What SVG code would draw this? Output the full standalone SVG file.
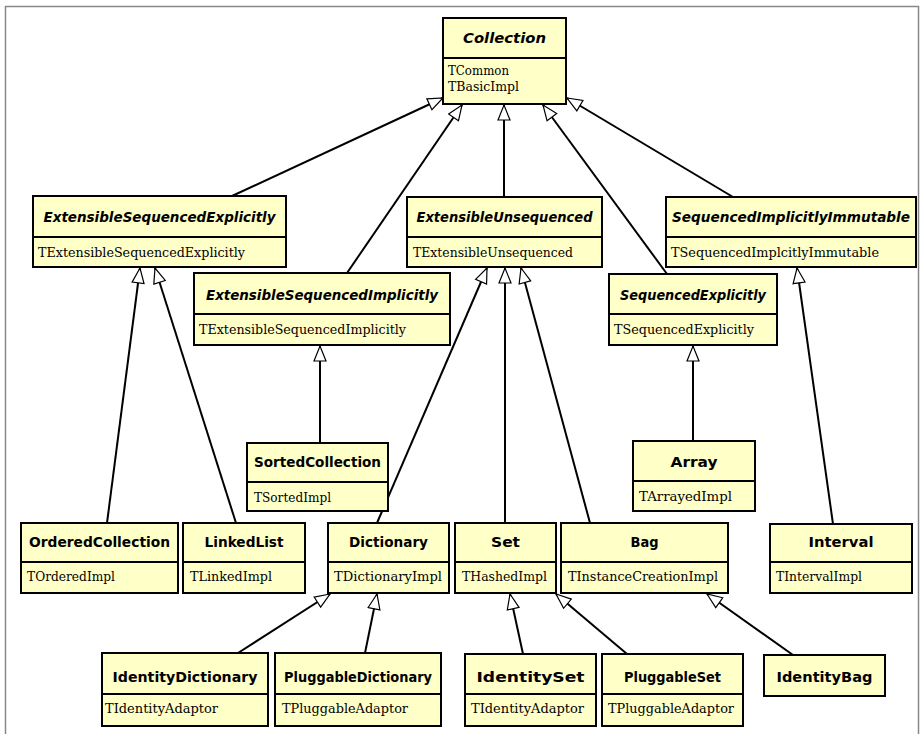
<svg xmlns="http://www.w3.org/2000/svg" width="922" height="734" viewBox="0 0 922 734">
<style>
.box{fill:#ffffc8;stroke:#000;stroke-width:2}
.dv{stroke:#000;stroke-width:2}
.h{font-family:"DejaVu Sans","Liberation Sans",sans-serif;font-weight:bold;font-size:14px;text-anchor:middle;fill:#000}
.i{font-style:italic}
.b{font-family:"DejaVu Serif","Liberation Serif",serif;font-size:12px;fill:#000}
.c line{stroke:#000;stroke-width:2;marker-end:url(#tri)}
</style>
<defs>
<marker id="tri" markerUnits="userSpaceOnUse" markerWidth="18" markerHeight="16" refX="16" refY="7" orient="auto">
<path d="M1,1 L16,7 L1,13 Z" fill="#fff" stroke="#000" stroke-width="1.2"/>
</marker>
</defs>
<rect x="5.5" y="6.5" width="913" height="740" fill="#fff" stroke="#888" stroke-width="1.5"/>
<g class="c" id="connectors">
<line x1="232" y1="196" x2="443" y2="98"/>
<line x1="347" y1="273" x2="462" y2="105"/>
<line x1="504" y1="197" x2="504" y2="105"/>
<line x1="667" y1="274" x2="543" y2="105"/>
<line x1="733" y1="197" x2="567" y2="98"/>
<line x1="107" y1="523" x2="140" y2="268"/>
<line x1="236" y1="523" x2="155" y2="268"/>
<line x1="320" y1="443" x2="320" y2="346"/>
<line x1="377" y1="523" x2="487" y2="268"/>
<line x1="505" y1="523" x2="505" y2="268"/>
<line x1="590" y1="523" x2="521" y2="268"/>
<line x1="693" y1="441" x2="693" y2="346"/>
<line x1="833" y1="524" x2="797" y2="268"/>
<line x1="238" y1="653" x2="330" y2="594"/>
<line x1="365" y1="653" x2="377" y2="594"/>
<line x1="523" y1="654" x2="510" y2="594"/>
<line x1="627" y1="654" x2="556" y2="594"/>
<line x1="793" y1="655" x2="707" y2="594"/>
</g>
<g id="Collection"><rect class="box" x="443" y="18" width="123" height="86"/><line class="dv" x1="443" y1="58" x2="566" y2="58"/><text class="h i" x="504.5" y="43" textLength="83" lengthAdjust="spacingAndGlyphs">Collection</text><text class="b" x="448" y="75" textLength="61" lengthAdjust="spacingAndGlyphs">TCommon</text><text class="b" x="448" y="91" textLength="71" lengthAdjust="spacingAndGlyphs">TBasicImpl</text></g>
<g id="ExtensibleSequencedExplicitly"><rect class="box" x="33" y="196" width="253" height="71"/><line class="dv" x1="33" y1="237" x2="286" y2="237"/><text class="h i" x="159.5" y="222" textLength="232" lengthAdjust="spacingAndGlyphs">ExtensibleSequencedExplicitly</text><text class="b" x="38" y="257" textLength="207" lengthAdjust="spacingAndGlyphs">TExtensibleSequencedExplicitly</text></g>
<g id="ExtensibleSequencedImplicitly"><rect class="box" x="194" y="273" width="256" height="72"/><line class="dv" x1="194" y1="314" x2="450" y2="314"/><text class="h i" x="322" y="300" textLength="232" lengthAdjust="spacingAndGlyphs">ExtensibleSequencedImplicitly</text><text class="b" x="199" y="334" textLength="207" lengthAdjust="spacingAndGlyphs">TExtensibleSequencedImplicitly</text></g>
<g id="ExtensibleUnsequenced"><rect class="box" x="407" y="197" width="195" height="70"/><line class="dv" x1="407" y1="237" x2="602" y2="237"/><text class="h i" x="504.5" y="222" textLength="176" lengthAdjust="spacingAndGlyphs">ExtensibleUnsequenced</text><text class="b" x="413" y="257" textLength="160" lengthAdjust="spacingAndGlyphs">TExtensibleUnsequenced</text></g>
<g id="SequencedImplicitlyImmutable"><rect class="box" x="666" y="197" width="250" height="70"/><line class="dv" x1="666" y1="237" x2="916" y2="237"/><text class="h i" x="791" y="222" textLength="238" lengthAdjust="spacingAndGlyphs">SequencedImplicitlyImmutable</text><text class="b" x="671" y="257" textLength="208" lengthAdjust="spacingAndGlyphs">TSequencedImplcitlyImmutable</text></g>
<g id="SequencedExplicitly"><rect class="box" x="609" y="274" width="168" height="71"/><line class="dv" x1="609" y1="314" x2="777" y2="314"/><text class="h i" x="693" y="300" textLength="146" lengthAdjust="spacingAndGlyphs">SequencedExplicitly</text><text class="b" x="614" y="334" textLength="140" lengthAdjust="spacingAndGlyphs">TSequencedExplicitly</text></g>
<g id="SortedCollection"><rect class="box" x="247" y="443" width="141" height="68"/><line class="dv" x1="247" y1="482" x2="388" y2="482"/><text class="h" x="317.5" y="467" textLength="127" lengthAdjust="spacingAndGlyphs">SortedCollection</text><text class="b" x="254" y="502" textLength="77" lengthAdjust="spacingAndGlyphs">TSortedImpl</text></g>
<g id="Array"><rect class="box" x="633" y="441" width="122" height="70"/><line class="dv" x1="633" y1="481" x2="755" y2="481"/><text class="h" x="694" y="467" textLength="47" lengthAdjust="spacingAndGlyphs">Array</text><text class="b" x="639" y="501" textLength="93" lengthAdjust="spacingAndGlyphs">TArrayedImpl</text></g>
<g id="OrderedCollection"><rect class="box" x="21" y="523" width="157" height="70"/><line class="dv" x1="21" y1="562" x2="178" y2="562"/><text class="h" x="99.5" y="547" textLength="141" lengthAdjust="spacingAndGlyphs">OrderedCollection</text><text class="b" x="27" y="581" textLength="88" lengthAdjust="spacingAndGlyphs">TOrderedImpl</text></g>
<g id="LinkedList"><rect class="box" x="183" y="523" width="122" height="70"/><line class="dv" x1="183" y1="562" x2="305" y2="562"/><text class="h" x="244" y="547" textLength="79" lengthAdjust="spacingAndGlyphs">LinkedList</text><text class="b" x="190" y="581" textLength="82" lengthAdjust="spacingAndGlyphs">TLinkedImpl</text></g>
<g id="Dictionary"><rect class="box" x="328" y="523" width="121" height="70"/><line class="dv" x1="328" y1="562" x2="449" y2="562"/><text class="h" x="388.5" y="547" textLength="79" lengthAdjust="spacingAndGlyphs">Dictionary</text><text class="b" x="334" y="581" textLength="108" lengthAdjust="spacingAndGlyphs">TDictionaryImpl</text></g>
<g id="Set"><rect class="box" x="455" y="523" width="101" height="70"/><line class="dv" x1="455" y1="562" x2="556" y2="562"/><text class="h" x="505.5" y="547" textLength="29" lengthAdjust="spacingAndGlyphs">Set</text><text class="b" x="462" y="581" textLength="85" lengthAdjust="spacingAndGlyphs">THashedImpl</text></g>
<g id="Bag"><rect class="box" x="561" y="523" width="167" height="70"/><line class="dv" x1="561" y1="562" x2="728" y2="562"/><text class="h" x="644.5" y="547" textLength="28" lengthAdjust="spacingAndGlyphs">Bag</text><text class="b" x="568" y="581" textLength="150" lengthAdjust="spacingAndGlyphs">TInstanceCreationImpl</text></g>
<g id="Interval"><rect class="box" x="770" y="524" width="142" height="69"/><line class="dv" x1="770" y1="562" x2="912" y2="562"/><text class="h" x="841" y="547" textLength="65" lengthAdjust="spacingAndGlyphs">Interval</text><text class="b" x="776" y="581" textLength="86" lengthAdjust="spacingAndGlyphs">TIntervalImpl</text></g>
<g id="IdentityDictionary"><rect class="box" x="102" y="653" width="166" height="73"/><line class="dv" x1="102" y1="694" x2="268" y2="694"/><text class="h" x="185" y="682" textLength="145" lengthAdjust="spacingAndGlyphs">IdentityDictionary</text><text class="b" x="105" y="713" textLength="113" lengthAdjust="spacingAndGlyphs">TIdentityAdaptor</text></g>
<g id="PluggableDictionary"><rect class="box" x="275" y="653" width="166" height="73"/><line class="dv" x1="275" y1="694" x2="441" y2="694"/><text class="h" x="358" y="682" textLength="148" lengthAdjust="spacingAndGlyphs">PluggableDictionary</text><text class="b" x="282" y="713" textLength="126" lengthAdjust="spacingAndGlyphs">TPluggableAdaptor</text></g>
<g id="IdentitySet"><rect class="box" x="465" y="654" width="131" height="72"/><line class="dv" x1="465" y1="694" x2="596" y2="694"/><text class="h" x="530.5" y="682" textLength="108" lengthAdjust="spacingAndGlyphs">IdentitySet</text><text class="b" x="471" y="713" textLength="113" lengthAdjust="spacingAndGlyphs">TIdentityAdaptor</text></g>
<g id="PluggableSet"><rect class="box" x="602" y="654" width="141" height="72"/><line class="dv" x1="602" y1="694" x2="743" y2="694"/><text class="h" x="672.5" y="682" textLength="97" lengthAdjust="spacingAndGlyphs">PluggableSet</text><text class="b" x="608" y="713" textLength="126" lengthAdjust="spacingAndGlyphs">TPluggableAdaptor</text></g>
<g id="IdentityBag"><rect class="box" x="764" y="655" width="121" height="41"/><text class="h" x="824.5" y="682" textLength="96" lengthAdjust="spacingAndGlyphs">IdentityBag</text></g>
</svg>
